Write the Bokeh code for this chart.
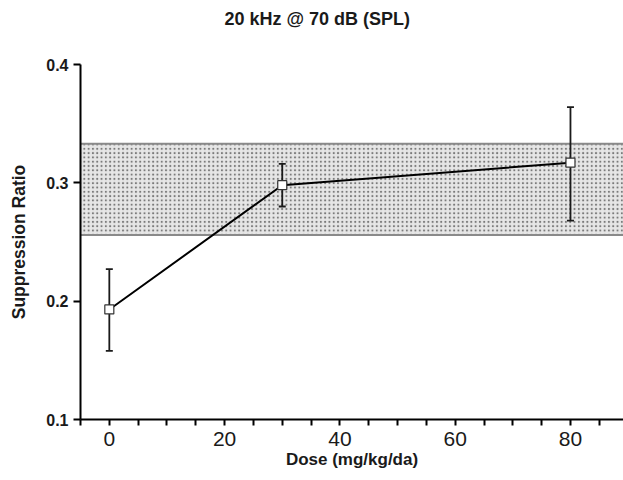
from bokeh.plotting import figure
from bokeh.models import Range1d, FixedTicker, Title, ColumnDataSource
from bokeh.embed import file_html
from bokeh.resources import INLINE

# ---- data ----
doses = [0, 30, 80]
ratio = [0.193, 0.298, 0.317]
err_upper = [0.227, 0.316, 0.364]
err_lower = [0.158, 0.280, 0.268]
band_low = 0.256
band_high = 0.333
x_ticks = [0, 20, 40, 60, 80]
x_minor = [-5, 5, 10, 15, 25, 30, 35, 45, 50, 55, 65, 70, 75, 85]
y_ticks = [0.1, 0.2, 0.3, 0.4]
title_text = "20 kHz @ 70 dB (SPL)"
x_label = "Dose (mg/kg/da)"
y_label = "Suppression Ratio"

FONT = "Liberation Sans"
x_start, x_end = -5, 89.2
y_start, y_end = 0.1, 0.4

p = figure(width=623, height=480, output_backend="svg", toolbar_location=None,
           x_range=Range1d(x_start, x_end), y_range=Range1d(y_start, y_end),
           min_border_left=80, min_border_right=0, min_border_top=64,
           min_border_bottom=61, title=None)
p.outline_line_color = None
p.grid.visible = False
p.background_fill_color = "white"
p.border_fill_color = "white"

# band (normal range)
p.quad(left=[x_start - 20], right=[x_end + 20], bottom=[band_low], top=[band_high],
       fill_color="#e6e6e6", line_color="#8a8a8a", line_width=2,
       hatch_pattern="dot", hatch_color="#7a7a7a", hatch_scale=4.3,
       hatch_weight=2.2)

src = ColumnDataSource(dict(x=doses, y=ratio, upper=err_upper, lower=err_lower))
p.line("x", "y", source=src, line_color="black", line_width=2)
# error bars
p.segment(x0="x", y0="lower", x1="x", y1="upper", source=src,
          line_color="#1a1a1a", line_width=1.8)
p.scatter("x", "upper", source=src, marker="dash", size=7,
          line_color="#1a1a1a", line_width=1.8)
p.scatter("x", "lower", source=src, marker="dash", size=7,
          line_color="#1a1a1a", line_width=1.8)
p.scatter("x", "y", source=src, marker="square", size=9, fill_color="white",
          line_color="#333333", line_width=1.2)

# x axis
xa = p.xaxis[0]
xa.ticker = FixedTicker(ticks=x_ticks, minor_ticks=x_minor)
xa.axis_line_width = 2
xa.axis_line_color = "black"
xa.major_tick_line_width = 2
xa.minor_tick_line_width = 2
xa.major_tick_in = 0
xa.major_tick_out = 6
xa.minor_tick_in = 0
xa.minor_tick_out = 6
xa.major_label_text_font = FONT
xa.major_label_text_font_size = "21px"
xa.major_label_text_color = "#1a1a1a"
xa.major_label_standoff = 6
xa.axis_label = x_label
xa.axis_label_text_font = FONT
xa.axis_label_text_font_style = "bold"
xa.axis_label_text_font_size = "17px"
xa.axis_label_text_color = "#1a1a1a"
xa.axis_label_standoff = 1

# y axis
ya = p.yaxis[0]
ya.ticker = FixedTicker(ticks=y_ticks, minor_ticks=[])
ya.axis_line_width = 2
ya.axis_line_color = "black"
ya.major_tick_line_width = 2
ya.major_tick_in = 0
ya.major_tick_out = 7
ya.minor_tick_out = 0
ya.major_label_text_font = FONT
ya.major_label_text_font_style = "bold"
ya.major_label_text_font_size = "16px"
ya.major_label_text_color = "#1a1a1a"
ya.major_label_standoff = 5
ya.axis_label = y_label
ya.axis_label_text_font = FONT
ya.axis_label_text_font_style = "bold"
ya.axis_label_text_font_size = "17.5px"
ya.axis_label_text_color = "#1a1a1a"
ya.axis_label_standoff = 14

# spacer above the frame, then the title
p.add_layout(Title(text=" ", text_font_size="1px", standoff=28), "above")
t = Title(text=title_text, align="left", offset=144, standoff=10,
          text_font=FONT, text_font_style="bold", text_font_size="18px",
          text_color="#1a1a1a")
p.add_layout(t, "above")

open("out.html", "w").write(file_html(p, INLINE))
